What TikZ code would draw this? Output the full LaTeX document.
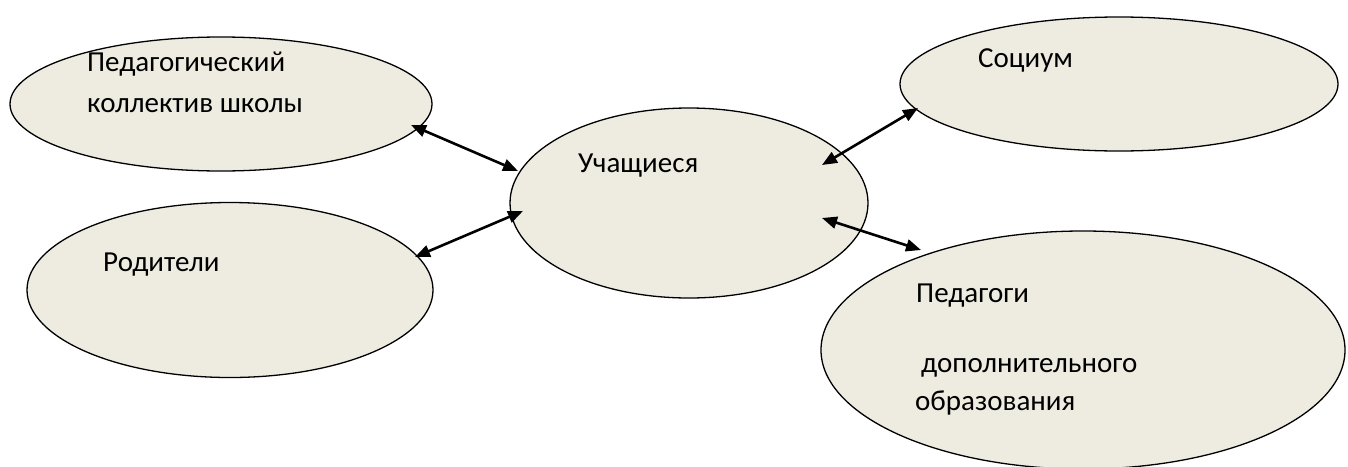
\documentclass[tikz,border=0pt]{standalone}
\usepackage{fontspec}
\setmainfont{Carlito}
\usetikzlibrary{shapes.geometric,arrows.meta}
\definecolor{oval fill}{HTML}{EEECE1}
\begin{document}
\begin{tikzpicture}[x=1pt,y=-1pt,
    oval/.style={ellipse, draw, line width=1.3pt, fill=oval fill, inner sep=0pt},
    label text/.style={anchor=base west, inner sep=0pt, font=\fontsize{29}{35}\selectfont},
    link/.style={{Triangle[length=15pt,width=12pt]}-{Triangle[length=15pt,width=12pt]}, line width=2.6pt}]
    % Поле рисунка
    \useasboundingbox (0,0) rectangle (1348,466);
    % Овалы
    \node[oval, minimum width=422pt, minimum height=134pt] (kollektiv) at (221,104) {};
    \node[oval, minimum width=438pt, minimum height=134pt] (socium) at (1119,84) {};
    \node[oval, minimum width=358pt, minimum height=190pt] (uchashiesya) at (689,203) {};
    \node[oval, minimum width=406pt, minimum height=175pt] (roditeli) at (230,290) {};
    \node[oval, minimum width=524pt, minimum height=238pt] (pedagogi) at (1083,350) {};
    % Подписи
    \node[label text] (t1) at (87,71) {Педагогический};
    \node[label text] (t2) at (87,112) {коллектив школы};
    \node[label text] (t3) at (978,67) {Социум};
    \node[label text] (t4) at (578,172) {Учащиеся};
    \node[label text] (t5) at (103,271) {Родители};
    \node[label text] (t6) at (916,302) {Педагоги};
    \node[label text] (t7) at (921,372) {дополнительного};
    \node[label text] (t8) at (915,410) {образования};
    % Концы стрелок
    \coordinate (k1) at (411,125);
    \coordinate (u1) at (518,171);
    \coordinate (r1) at (415,257);
    \coordinate (u2) at (523,211);
    \coordinate (s1) at (918,108);
    \coordinate (u3) at (822,165);
    \coordinate (p1) at (921,250);
    \coordinate (u4) at (822,218);
    % Стрелки
    \draw[link] (k1) -- (u1);
    \draw[link] (r1) -- (u2);
    \draw[link] (u3) -- (s1);
    \draw[link] (u4) -- (p1);
\end{tikzpicture}
\end{document}
